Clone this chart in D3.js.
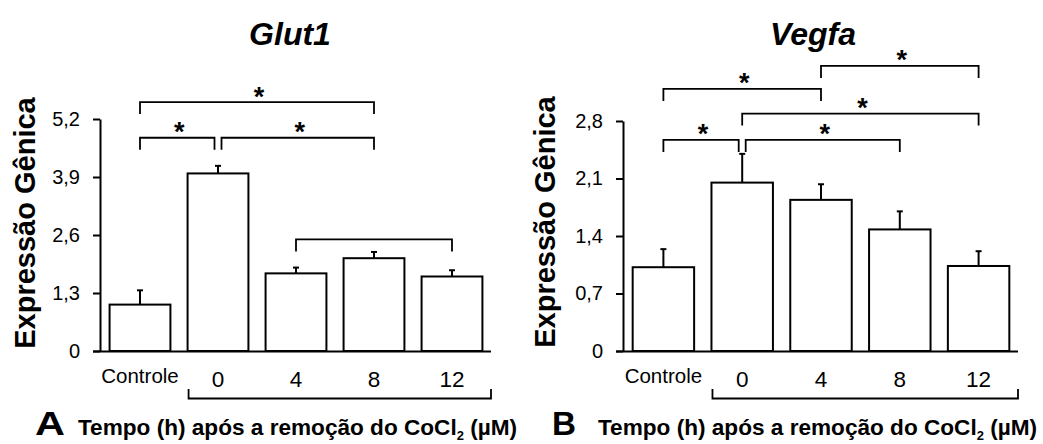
<!DOCTYPE html>
<html>
<head>
<meta charset="utf-8">
<script src="https://cdn.jsdelivr.net/npm/d3@7"></script>
<style>
  body { margin: 0; background: #fff; }
  svg { display: block; font-family: "Liberation Sans", Arial, sans-serif; }
</style>
</head>
<body>
<svg id="chart" width="1043" height="444"></svg>
<script>
// categories on the x axis (hours after CoCl2 removal)
var categories = ["Controle", "0", "4", "8", "12"];

// Glut1 panel
var glutMean = [1.04, 3.98, 1.74, 2.08, 1.67];
var glutErr = [0.32, 0.17, 0.13, 0.14, 0.14];
var glutTicks = [0, 1.3, 2.6, 3.9, 5.2];
// [from, to, height (data units), label]
var glutSig = [[0, 3, 5.58, "*"], [0, 1, 4.78, "*"], [1, 3, 4.78, "*"], [2, 4, 2.50, ""]];

// Vegfa panel
var vegfaMean = [1.02, 2.05, 1.84, 1.48, 1.035];
var vegfaErr = [0.22, 0.35, 0.19, 0.22, 0.18];
var vegfaTicks = [0, 0.7, 1.4, 2.1, 2.8];
var vegfaSig = [[0, 2, 3.19, "*"], [2, 4, 3.47, "*"], [1, 4, 2.89, "*"], [0, 1, 2.57, "*"], [1, 3, 2.57, "*"]];

var svg = d3.select("#chart");
var baseY = 351;

var panels = [
  { title: "Glut1", letter: "A", mean: glutMean, err: glutErr, ticks: glutTicks, sig: glutSig,
    axisX: 100, x0: 101, x1: 491, yTop: 119, titleX: 290, ylabX: 35, ylabY: 223, letterX: 35, textX: 78 },
  { title: "Vegfa", letter: "B", mean: vegfaMean, err: vegfaErr, ticks: vegfaTicks, sig: vegfaSig,
    axisX: 623, x0: 624, x1: 1018, yTop: 121, titleX: 813, ylabX: 555, ylabY: 222, letterX: 552, textX: 598 }
];

panels.forEach(drawPanel);

function drawPanel(p) {
  var x = d3.scaleBand().domain(categories).range([p.x0, p.x1]).paddingInner(0.22).paddingOuter(0.11);
  var y = d3.scaleLinear().domain([0, p.ticks[p.ticks.length - 1]]).range([baseY, p.yTop]);
  var g = svg.append("g");
  var cx = function(i) { return x(categories[i]) + x.bandwidth() / 2; };

  // bars
  g.selectAll("rect.bar").data(p.mean).join("rect")
    .attr("class", "bar")
    .attr("x", function(d, i) { return x(categories[i]); })
    .attr("y", function(d) { return y(d); })
    .attr("width", x.bandwidth())
    .attr("height", function(d) { return y(0) - y(d); })
    .attr("fill", "#fff")
    .attr("stroke", "#000")
    .attr("stroke-width", 2);

  // error bars (upper only)
  g.selectAll("line.err").data(p.mean).join("line")
    .attr("class", "err")
    .attr("x1", function(d, i) { return cx(i); })
    .attr("x2", function(d, i) { return cx(i); })
    .attr("y1", function(d) { return y(d); })
    .attr("y2", function(d, i) { return y(d + p.err[i]); })
    .attr("stroke", "#000").attr("stroke-width", 2);
  g.selectAll("line.cap").data(p.mean).join("line")
    .attr("class", "cap")
    .attr("x1", function(d, i) { return cx(i) - 3; })
    .attr("x2", function(d, i) { return cx(i) + 3; })
    .attr("y1", function(d, i) { return y(d + p.err[i]); })
    .attr("y2", function(d, i) { return y(d + p.err[i]); })
    .attr("stroke", "#000").attr("stroke-width", 2);

  // y axis
  var yAxis = d3.axisLeft(y)
    .tickValues(p.ticks)
    .tickFormat(function(d) { return String(d).replace(".", ","); })
    .tickSize(7).tickSizeOuter(0).tickPadding(13);
  var ya = g.append("g").attr("transform", "translate(" + p.axisX + ",0)").call(yAxis);
  ya.select(".domain").attr("stroke-width", 2);
  ya.selectAll(".tick line").attr("stroke-width", 2);
  ya.selectAll(".tick text").attr("font-size", 20).attr("fill", "#000")
    .attr("font-family", "Liberation Sans, Arial, sans-serif");

  // x axis line
  g.append("line")
    .attr("x1", p.axisX - 7).attr("x2", p.x1)
    .attr("y1", baseY + 0.5).attr("y2", baseY + 0.5)
    .attr("stroke", "#000").attr("stroke-width", 2);

  // x labels
  var xAxis = d3.axisBottom(x).tickSize(0);
  var xa = g.append("g").attr("transform", "translate(0," + baseY + ")").call(xAxis);
  xa.select(".domain").remove();
  xa.selectAll(".tick text")
    .attr("font-family", "Liberation Sans, Arial, sans-serif")
    .attr("fill", "#000")
    .attr("dy", null)
    .attr("font-size", function(d) { return d === "Controle" ? 20.5 : 22.5; })
    .attr("y", function(d) { return d === "Controle" ? 31.5 : 36; });

  // bracket under the time points
  var bx0 = x(categories[1]) + 1, bx1 = p.x1;
  g.append("path")
    .attr("d", "M" + bx0 + "," + 389 + "V" + 398.5 + "H" + bx1 + "V" + 389)
    .attr("fill", "none").attr("stroke", "#000").attr("stroke-width", 1.8);

  // significance brackets
  p.sig.forEach(function(s) {
    var h = s[2];
    var shared = function(idx, self) {
      return p.sig.some(function(o) { return o !== self && o[2] === h && (o[0] === idx || o[1] === idx); });
    };
    var xa0 = cx(s[0]) + (shared(s[0], s) ? 3.5 : 0);
    var xa1 = cx(s[1]) - (shared(s[1], s) ? 3.5 : 0);
    var yy = y(h);
    g.append("path")
      .attr("d", "M" + xa0 + "," + (yy + 12) + "V" + yy + "H" + xa1 + "V" + (yy + 12))
      .attr("fill", "none").attr("stroke", "#000").attr("stroke-width", 1.8);
    if (s[3]) {
      g.append("text")
        .attr("x", (xa0 + xa1) / 2 + 2)
        .attr("y", yy + 3.5)
        .attr("text-anchor", "middle")
        .attr("font-size", 27).attr("font-weight", "bold")
        .text(s[3]);
    }
  });

  // title
  g.append("text")
    .attr("x", p.titleX).attr("y", 45)
    .attr("text-anchor", "middle")
    .attr("font-size", 32).attr("font-weight", "bold").attr("font-style", "italic")
    .text(p.title);

  // y title
  g.append("text")
    .attr("transform", "translate(" + p.ylabX + "," + p.ylabY + ") rotate(-90)")
    .attr("text-anchor", "middle")
    .attr("font-size", 29).attr("font-weight", "bold")
    .text("Expressão Gênica");

  // panel letter and x title
  g.append("text")
    .attr("x", p.letterX).attr("y", 435)
    .attr("font-size", 33).attr("font-weight", "bold")
    .attr("textLength", p.letter === "A" ? 30 : 24).attr("lengthAdjust", "spacingAndGlyphs")
    .text(p.letter);
  var t = g.append("text")
    .attr("x", p.textX).attr("y", 435)
    .attr("font-size", 22.6).attr("font-weight", "bold");
  t.append("tspan").text("Tempo (h) após a remoção do CoCl");
  t.append("tspan").attr("font-size", 13).attr("dy", 5).text("2");
  t.append("tspan").attr("dy", -5).text(" (µM)");
}
</script>
</body>
</html>
